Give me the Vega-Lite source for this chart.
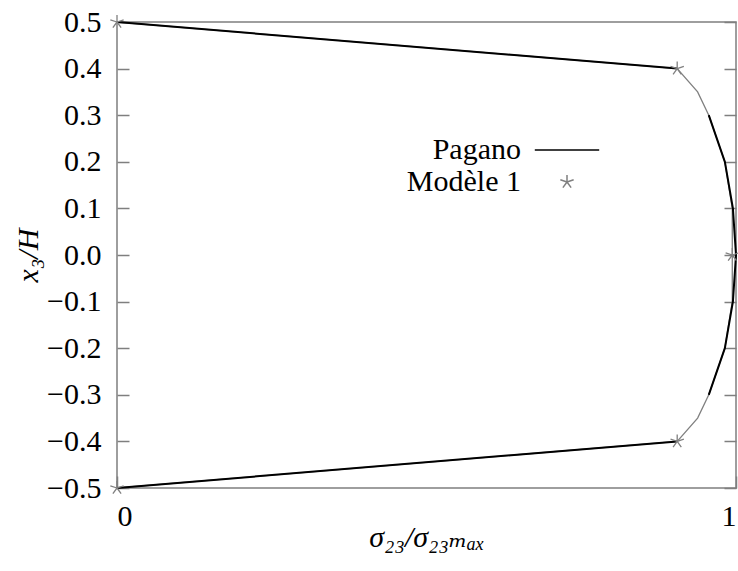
{
  "$schema": "https://vega.github.io/schema/vega-lite/v6.json",
  "width": 619,
  "height": 466,
  "autosize": "none",
  "padding": {"left": 117, "top": 22, "right": 2, "bottom": 83},
  "config": {
    "view": {"stroke": "#7f7f7f", "strokeWidth": 1.5},
    "font": "Liberation Serif, DejaVu Serif, serif",
    "axis": {
      "labelFont": "Liberation Serif, DejaVu Serif, serif",
      "labelFontSize": 30,
      "labelColor": "black",
      "titleFont": "Liberation Serif, DejaVu Serif, serif",
      "titleFontSize": 30,
      "titleFontWeight": "normal",
      "titleColor": "black",
      "domain": false,
      "grid": false,
      "tickColor": "#7f7f7f",
      "tickWidth": 1.5,
      "tickSize": -12
    },
    "legend": {
      "orient": "none",
      "legendX": 435,
      "legendY": 113,
      "padding": 0,
      "labelFont": "Liberation Serif, DejaVu Serif, serif",
      "labelFontSize": 30,
      "labelColor": "black",
      "labelAlign": "right",
      "labelOffset": -61,
      "labelLimit": 0,
      "symbolSize": 196,
      "symbolStrokeWidth": 1.5,
      "rowPadding": 2
    }
  },
  "datasets": {
    "pagano": [
      {"part": "top", "s": 0, "x3": 0.5},
      {"part": "top", "s": 0.905, "x3": 0.4},
      {"part": "core", "s": 0.956, "x3": 0.3},
      {"part": "core", "s": 0.982, "x3": 0.2},
      {"part": "core", "s": 0.995, "x3": 0.1},
      {"part": "core", "s": 1.0, "x3": 0.0},
      {"part": "core", "s": 0.995, "x3": -0.1},
      {"part": "core", "s": 0.982, "x3": -0.2},
      {"part": "core", "s": 0.956, "x3": -0.3},
      {"part": "bottom", "s": 0.905, "x3": -0.4},
      {"part": "bottom", "s": 0, "x3": -0.5}
    ],
    "modele": [
      {"s": 0, "x3": 0.5},
      {"s": 0.905, "x3": 0.4},
      {"s": 0.938, "x3": 0.35},
      {"s": 0.956, "x3": 0.3},
      {"s": 0.982, "x3": 0.2},
      {"s": 0.994, "x3": 0.1},
      {"s": 0.994, "x3": 0.0},
      {"s": 0.994, "x3": -0.1},
      {"s": 0.982, "x3": -0.2},
      {"s": 0.956, "x3": -0.3},
      {"s": 0.938, "x3": -0.35},
      {"s": 0.905, "x3": -0.4},
      {"s": 0, "x3": -0.5}
    ],
    "markers": [
      {"series": "Modèle 1", "s": 0, "x3": 0.5},
      {"series": "Modèle 1", "s": 0.905, "x3": 0.4},
      {"series": "Modèle 1", "s": 0.994, "x3": 0.0},
      {"series": "Modèle 1", "s": 0.905, "x3": -0.4},
      {"series": "Modèle 1", "s": 0, "x3": -0.5}
    ]
  },
  "layer": [
    {
      "data": {"name": "modele"},
      "mark": {"type": "line", "color": "#808080", "strokeWidth": 1.3},
      "encoding": {
        "x": {
          "field": "s", "type": "quantitative",
          "scale": {"domain": [0, 1], "nice": false, "zero": false},
          "axis": {"values": [0, 1], "format": "d", "labelFont": "Liberation Serif, DejaVu Serif, serif", "labelFontSize": 30, "labelPadding": 25, "title": "σ₂₃/σ₂₃ₘₐₓ", "titleFontStyle": "italic", "titleY": 49, "titleBaseline": "middle"}
        },
        "y": {
          "field": "x3", "type": "quantitative",
          "scale": {"domain": [-0.5, 0.5], "nice": false, "zero": false},
          "axis": {"orient": "left", "values": [-0.5, -0.4, -0.3, -0.2, -0.1, 0, 0.1, 0.2, 0.3, 0.4, 0.5], "format": ".1f", "labelFont": "Liberation Serif, DejaVu Serif, serif", "labelFontSize": 30, "labelPadding": 28, "title": "x₃/H", "titleFontStyle": "italic", "titleX": -89, "titleY": 233, "titleAngle": -90, "titleBaseline": "middle", "titleAlign": "center"}
        },
        "order": {"field": "x3", "type": "quantitative"}
      }
    },
    {
      "data": {"name": "pagano"},
      "mark": {"type": "line", "color": "black", "strokeWidth": 2},
      "encoding": {
        "x": {"field": "s", "type": "quantitative"},
        "y": {"field": "x3", "type": "quantitative", "axis": null},
        "detail": {"field": "part"},
        "order": {"field": "x3", "type": "quantitative"}
      }
    },
    {
      "data": {"name": "markers"},
      "mark": {"type": "point", "filled": false, "strokeWidth": 1.3, "opacity": 1, "size": 196},
      "encoding": {
        "x": {"field": "s", "type": "quantitative"},
        "y": {"field": "x3", "type": "quantitative", "axis": {"orient": "right", "values": [-0.5, -0.4, -0.3, -0.2, -0.1, 0, 0.1, 0.2, 0.3, 0.4, 0.5], "labels": false, "title": null}},
        "color": {
          "field": "series", "type": "nominal",
          "scale": {"domain": ["Pagano", "Modèle 1"], "range": ["black", "#808080"]},
          "legend": {"title": null}
        },
        "shape": {
          "field": "series", "type": "nominal",
          "scale": {"domain": ["Pagano", "Modèle 1"], "range": ["M-4.6,0L4.6,0", "M0,0L0,-1M0,0L0.951,-0.309M0,0L0.588,0.809M0,0L-0.588,0.809M0,0L-0.951,-0.309"]},
          "legend": {"title": null}
        }
      }
    }
  ],
  "resolve": {"scale": {"y": "shared"}, "axis": {"y": "independent"}}
}
